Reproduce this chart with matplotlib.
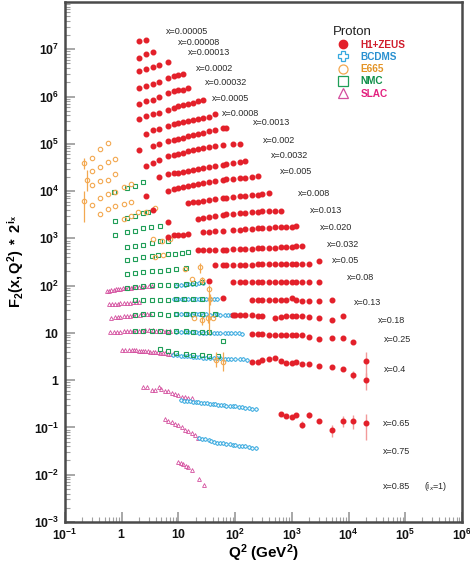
import numpy as np
import matplotlib.pyplot as plt
from matplotlib.lines import Line2D
from matplotlib.ticker import FixedLocator, LogLocator, NullFormatter, FuncFormatter

plt.rcParams['font.family'] = ['Liberation Sans', 'DejaVu Sans']
plt.rcParams['mathtext.fontset'] = 'custom'
plt.rcParams['mathtext.rm'] = 'Liberation Sans'
plt.rcParams['mathtext.it'] = 'Liberation Sans:italic'
plt.rcParams['mathtext.bf'] = 'Liberation Sans:bold'

# x bins, top to bottom (F2 is scaled by 2^i_x, i_x=1 for x=0.85)
bins = ['0.00005', '0.00008', '0.00013', '0.0002', '0.00032', '0.0005', '0.0008',
        '0.0013', '0.002', '0.0032', '0.005', '0.008', '0.013', '0.020', '0.032',
        '0.05', '0.08', '0.13', '0.18', '0.25', '0.4', '0.65', '0.75', '0.85']

# H1+ZEUS: Q2 and F2*2^i per bin
hera_q2 = {
    '0.00005': [2, 2.7],
    '0.00008': [2, 2.7, 3.5],
    '0.00013': [2, 2.7, 3.5, 4.5, 6.5],
    '0.0002': [2, 2.7, 3.5, 4.5, 6.5, 8.5, 10, 12],
    '0.00032': [2, 2.7, 3.5, 4.5, 6.5, 8.5, 10, 12, 15],
    '0.0005': [2, 2.7, 3.5, 4.5, 6.5, 8.5, 10, 12, 15, 18, 22, 27],
    '0.0008': [2.7, 3.5, 4.5, 6.5, 8.5, 10, 12, 15, 18, 22, 27, 35, 45],
    '0.0013': [2, 3.5, 4.5, 6.5, 8.5, 10, 12, 15, 18, 22, 27, 35, 45, 60, 70],
    '0.002': [2.7, 3.5, 4.5, 6.5, 8.5, 10, 12, 15, 18, 22, 27, 35, 45, 60, 90, 120],
    '0.0032': [4.5, 6.5, 8.5, 10, 12, 15, 18, 22, 27, 35, 45, 60, 70, 90, 120, 150],
    '0.005': [2.7, 6.5, 8.5, 10, 12, 15, 18, 22, 27, 35, 45, 60, 70, 90, 120, 150, 200, 250],
    '0.008': [3.5, 15, 18, 22, 27, 35, 45, 60, 70, 90, 120, 150, 200, 250, 300, 400],
    '0.013': [6.5, 22, 27, 35, 45, 60, 70, 90, 120, 150, 200, 250, 300, 400, 500, 650],
    '0.020': [6.5, 8.5, 10, 12, 15, 27, 35, 45, 60, 90, 120, 150, 200, 250, 300, 400, 500,
              650, 800, 1000, 1200],
    '0.032': [22, 27, 35, 45, 60, 70, 90, 120, 150, 200, 250, 300, 400, 500, 650, 800, 1000,
              1200, 1500],
    '0.05': [45, 60, 70, 90, 120, 150, 200, 250, 300, 400, 500, 650, 800, 1000, 1200, 1500,
             2000, 3000],
    '0.08': [35, 90, 120, 150, 200, 250, 300, 400, 500, 650, 800, 1000, 1200, 1500, 2000, 3000],
    '0.13': [60, 200, 250, 300, 400, 500, 650, 800, 1000, 1200, 1500, 2000, 3000, 5000],
    '0.18': [90, 100, 120, 150, 200, 250, 300, 500, 650, 800, 1000, 1200, 1500, 2000, 3000,
             5000, 8000],
    '0.25': [200, 250, 300, 400, 500, 650, 800, 1000, 1200, 1500, 2000, 3000, 5000, 8000,
             12000, 20000],
    '0.4': [200, 250, 300, 400, 500, 650, 800, 1000, 1200, 1500, 2000, 3000, 5000, 8000,
            12000, 20000],
    '0.65': [650, 800, 1000, 1200, 1500, 2000, 3000, 5000, 8000, 12000, 20000],
}
hera_f2 = {
    '0.00005': [1.5e7, 1.6e7],
    '0.00008': [6.6e6, 8.0e6, 8.9e6],
    '0.00013': [3.5e6, 3.9e6, 4.3e6, 4.7e6, 5.3e6],
    '0.0002': [1.52e6, 1.71e6, 1.85e6, 2.07e6, 2.5e6, 2.7e6, 2.85e6, 3.05e6],
    '0.00032': [7.0e5, 7.9e5, 8.6e5, 9.6e5, 1.2e6, 1.29e6, 1.36e6, 1.4e6, 1.52e6],
    '0.0005': [3.4e5, 3.85e5, 4.2e5, 4.5e5, 5.3e5, 5.8e5, 6.2e5, 6.6e5, 6.8e5, 7.4e5, 8.0e5, 8.6e5],
    '0.0008': [1.64e5, 1.92e5, 2.09e5, 2.37e5, 2.58e5, 2.7e5, 2.83e5, 2.97e5, 3.12e5, 3.28e5,
               3.44e5, 3.65e5, 4.18e5],
    '0.0013': [7.3e4, 8.86e4, 9.76e4, 1.13e5, 1.21e5, 1.27e5, 1.34e5, 1.44e5, 1.51e5, 1.62e5,
               1.7e5, 1.83e5, 1.97e5, 2.12e5, 2.19e5],
    '0.002': [3.41e4, 4.02e4, 4.49e4, 5.46e4, 5.87e4, 6.16e4, 6.46e4, 6.95e4, 7.3e4, 7.66e4,
              8.04e4, 8.44e4, 8.86e4, 9.3e4, 9.76e4, 1.01e5],
    '0.0032': [2.0e4, 2.28e4, 2.39e4, 2.45e4, 2.57e4, 2.7e4, 2.84e4, 2.98e4, 3.12e4, 3.28e4,
               3.44e4, 3.61e4, 3.7e4, 3.88e4, 4.08e4, 4.35e4],
    '0.005': [7.96e3, 1.01e4, 1.13e4, 1.18e4, 1.24e4, 1.3e4, 1.37e4, 1.44e4, 1.51e4, 1.58e4,
              1.66e4, 1.74e4, 1.79e4, 1.83e4, 1.88e4, 1.93e4, 1.97e4, 2.04e4],
    '0.008': [4.04e3, 5.59e3, 5.78e3, 6.01e3, 6.25e3, 6.47e3, 6.79e3, 7.12e3, 7.3e3, 7.48e3,
              7.85e3, 8.04e3, 8.24e3, 8.45e3, 8.65e3, 8.95e3],
    '0.013': [2.19e3, 2.57e3, 2.7e3, 2.84e3, 2.98e3, 3.12e3, 3.2e3, 3.28e3, 3.36e3, 3.44e3,
              3.53e3, 3.61e3, 3.7e3, 3.79e3, 3.79e3, 3.85e3],
    '0.020': [1060, 1150, 1180, 1190, 1240, 1350, 1370, 1410, 1440, 1480, 1510, 1550, 1590,
              1630, 1640, 1660, 1700, 1720, 1740, 1770, 1790],
    '0.032': [573, 573, 575, 575, 578, 580, 585, 590, 600, 605, 615, 625, 630, 640, 650, 660,
              670, 690, 680],
    '0.05': [267, 268, 268, 270, 277, 277, 277, 280, 283, 283, 286, 290, 283, 290, 290, 290,
             286, 325],
    '0.08': [125, 120, 121, 120, 121, 120, 119, 121, 120, 118, 121, 120, 118, 120, 117, 120],
    '0.13': [54, 49, 49, 49, 49, 49, 49, 49, 55, 49, 47, 47, 47, 49],
    '0.18': [23.7, 23.7, 23.7, 23.7, 23.7, 23, 23, 20.9, 21.9, 23, 23, 23, 23, 21.9, 20.9,
             18.6, 23],
    '0.25': [9.3, 9.3, 9.3, 9.0, 9.0, 9.0, 9.0, 9.0, 9.0, 9.0, 8.3, 7.4, 7.9, 7.9, 6.3, 2.55],
    '0.4': [2.48, 2.48, 2.68, 2.81, 2.9, 2.55, 2.28, 2.28, 2.39, 2.17, 2.17, 2.04, 1.94, 1.73,
            1.31, 1.01],
    '0.65': [0.192, 0.172, 0.164, 0.186, 0.115, 0.186, 0.139, 0.087, 0.139, 0.139, 0.124],
}
hera_err = {
    '0.18': [0] * 16 + [1.5],
    '0.25': [0] * 12 + [0.4, 0.6, 0.6, 1.4],
    '0.4': [0] * 12 + [0.1, 0.15, 0.25, 0.38],
    '0.65': [0.02, 0.012, 0.015, 0.02, 0.02, 0.03, 0.012, 0.025, 0.035, 0.045, 0.07],
}

# BCDMS
bcdms_q2 = {
    '0.08': [9, 11, 13, 15, 17.5, 20, 23, 27],
    '0.13': [8.5, 10, 11.5, 13, 15, 17.5, 20, 23, 27, 31, 36, 42, 48],
    '0.18': [9, 11, 13, 15, 17.5, 20, 23, 27, 31, 36, 42, 48, 55, 65, 75, 85, 100],
    '0.25': [9, 11, 13, 15, 17.5, 20, 23, 27, 31, 36, 42, 48, 55, 65, 75, 85, 100, 115, 130],
    '0.4': [8, 9.5, 11, 12.5, 14, 16, 18, 20, 23, 27, 31, 36, 42, 48, 55, 65, 75, 85, 100,
            120, 140, 160],
    '0.65': [11, 12.5, 14, 16, 18, 20, 22.5, 25, 28, 32, 36, 40, 45, 50, 56, 63, 70, 80, 90,
             100, 115, 130, 150, 175, 200, 230],
    '0.75': [23, 26, 30, 34, 38, 43, 48, 55, 62, 70, 80, 90, 100, 115, 130, 150, 175, 200, 230],
}
bcdms_f2 = {
    '0.08': [100, 102, 104, 106, 108, 110, 112, 115],
    '0.13': [51, 51, 51.5, 51.5, 52, 52, 52, 52.5, 52.5, 53, 53, 53, 53],
    '0.18': [24.5, 24.6, 24.5, 24.6, 24.4, 24.5, 24.6, 24.4, 24.5, 24.3, 24.4, 24.5, 24.3,
             24.2, 24.3, 24.2, 24.0],
    '0.25': [10.3, 10.3, 10.2, 10.2, 10.2, 10.2, 10.1, 10.1, 10.1, 10.0, 10.0, 10.0, 9.9, 9.9,
             9.9, 9.8, 9.8, 9.8, 9.7],
    '0.4': [3.4, 3.35, 3.3, 3.25, 3.2, 3.2, 3.15, 3.1, 3.05, 3.0, 3.0, 2.95, 2.95, 2.9, 2.9,
            2.85, 2.85, 2.8, 2.8, 2.75, 2.75, 2.7],
    '0.65': [0.385, 0.37, 0.36, 0.355, 0.35, 0.345, 0.34, 0.335, 0.33, 0.325, 0.32, 0.315,
             0.31, 0.305, 0.3, 0.295, 0.29, 0.285, 0.28, 0.28, 0.27, 0.265, 0.26, 0.255,
             0.24, 0.24],
    '0.75': [0.060, 0.058, 0.056, 0.054, 0.052, 0.05, 0.048, 0.047, 0.046, 0.045, 0.044,
             0.043, 0.042, 0.041, 0.040, 0.040, 0.038, 0.037, 0.036],
}

# NMC
nmc_q2 = {
    '0.005': [0.73, 1.22, 1.72, 2.4],
    '0.008': [0.75, 1.22, 1.72, 2.4, 2.9],
    '0.013': [0.75, 1.22, 1.72, 2.4, 3.3, 4.7],
    '0.020': [1.22, 1.72, 2.4, 3.4, 4.7, 6.6],
    '0.032': [1.22, 1.72, 2.4, 3.4, 4.4, 6.6, 8.7, 11.4, 15],
    '0.05': [1.22, 1.72, 2.4, 3.4, 4.7, 6.6, 9.2, 13.7],
    '0.08': [1.22, 1.72, 2.4, 3.4, 4.7, 6.6, 9.2, 13.7, 18.3, 26],
    '0.13': [1.72, 2.4, 3.4, 4.7, 6.6, 9.2, 12.7, 18, 26],
    '0.18': [1.72, 2.4, 3.4, 4.7, 6.6, 9.2, 13.7, 18.3, 26, 44],
    '0.25': [1.72, 2.4, 3.4, 4.7, 6.6, 9.2, 13.7, 18.3, 26, 35, 60],
    '0.4': [4.7, 6.6, 9.2, 13.7, 18.3, 26, 35, 50],
}
nmc_f2 = {
    '0.005': [9.5e3, 1.14e4, 1.26e4, 1.55e4],
    '0.008': [2.34e3, 2.7e3, 2.98e3, 3.4e3, 3.67e3],
    '0.013': [1150, 1350, 1450, 1640, 1720, 1860],
    '0.020': [670, 705, 740, 800, 860, 900],
    '0.032': [341, 358, 402, 422, 450, 472, 472, 495, 512],
    '0.05': [179, 185, 194, 200, 204, 210, 220, 236],
    '0.08': [89.5, 94, 96.7, 101, 101, 101, 105, 110, 116, 120],
    '0.13': [49, 50.7, 50.7, 49, 49, 51.3, 51.3, 51.3, 51.3],
    '0.18': [23.7, 24.5, 24.5, 24.5, 23.7, 24.5, 25.7, 24.5, 25.7, 25.7],
    '0.25': [10.9, 10.9, 10.9, 10.9, 10.3, 10.9, 10.9, 10.6, 10.3, 10.3, 6.7],
    '0.4': [4.5, 4.1, 3.8, 3.6, 3.45, 3.35, 3.3, 3.2],
}

# SLAC
slac_q2 = {
    '0.08': [0.55, 0.6, 0.65, 0.72, 0.8, 0.85, 0.95, 1.05, 1.15, 1.3, 1.45, 1.6, 1.8, 2.0,
             2.3, 2.6, 3.0, 3.4],
    '0.13': [0.6, 0.68, 0.75, 0.85, 0.95, 1.1, 1.25, 1.4, 1.6, 1.8, 2.0],
    '0.18': [0.65, 0.75, 0.85, 0.95, 1.1, 1.25, 1.4, 1.6, 1.8, 2.1, 2.4, 2.8, 3.2],
    '0.25': [0.62, 0.72, 0.82, 0.95, 1.1, 1.25, 1.4, 1.6, 1.8, 2.0, 2.3, 2.6, 3.0, 3.5, 4.0,
             4.6, 5.3, 6.0, 7.0],
    '0.4': [1.0, 1.15, 1.35, 1.5, 1.65, 1.8, 2.0, 2.2, 2.4, 2.6, 2.9, 3.2, 3.5, 3.9, 4.3,
            4.8, 5.3, 5.9, 6.5, 7.2, 8.0],
    '0.65': [2.4, 2.75, 3.4, 3.9, 4.6, 5.0, 5.8, 6.6, 7.6, 8.7, 10, 11.4, 13.1, 15, 17],
    '0.75': [5.8, 6.6, 7.6, 8.7, 10, 11.4, 13.1, 15, 17, 19.5, 22.5],
    '0.85': [10, 11, 12, 13.5, 15, 17.7, 23, 28],
}
slac_f2 = {
    '0.08': [76, 78, 80, 82, 84, 85, 86, 88, 88, 90, 91, 92, 93, 94, 95, 96, 97, 98],
    '0.13': [40, 40, 41, 41, 42, 42, 43, 43, 44, 44, 45],
    '0.18': [21, 21.5, 22, 22, 22.5, 23, 23, 23.5, 24, 24, 24.5, 25, 25],
    '0.25': [10.4, 10.5, 10.6, 10.7, 10.8, 10.9, 11, 11, 11.1, 11.2, 11.2, 11.3, 11.3, 11.3,
             11.2, 11.2, 11.1, 11, 10.9],
    '0.4': [4.25, 4.3, 4.3, 4.3, 4.3, 4.25, 4.2, 4.2, 4.15, 4.1, 4.05, 4.0, 3.95, 3.9, 3.85,
            3.8, 3.75, 3.7, 3.65, 3.6, 3.55],
    '0.65': [0.71, 0.70, 0.63, 0.63, 0.71, 0.66, 0.58, 0.58, 0.53, 0.51, 0.48, 0.45, 0.43,
             0.42, 0.42],
    '0.75': [0.153, 0.139, 0.129, 0.119, 0.111, 0.101, 0.09, 0.083, 0.077, 0.069, 0.060],
    '0.85': [0.0185, 0.0175, 0.0165, 0.0155, 0.0145, 0.0123, 0.0082, 0.0061],
}

# E665 (low Q2 points, several x bins)
e665_q2 = [0.22, 0.30, 0.41, 0.57, 0.24, 0.30, 0.41, 0.57, 0.76, 0.22, 0.30, 0.41, 0.57,
           0.76, 0.41, 0.57, 0.76, 1.08, 1.44, 0.30, 0.41, 0.57, 0.76, 1.08, 1.44, 1.08,
           1.44, 1.96, 2.7, 3.9, 3.6, 5.1, 7.1, 3.9, 5.4, 13, 24, 17, 26, 34, 36, 18.5,
           25.6, 33.5, 41, 46, 60]
e665_f2 = [4.0e4, 4.95e4, 7.66e4, 1.02e5, 1.71e4, 2.6e4, 3.16e4, 4.14e4, 4.72e4, 6.25e3,
           1.34e4, 1.65e4, 1.73e4, 2.28e4, 7.0e3, 8.65e3, 9.4e3, 1.21e4, 1.4e4, 5.07e3,
           3.28e3, 4.18e3, 4.9e3, 5.32e3, 5.78e3, 2.57e3, 3.02e3, 3.56e3, 3.67e3, 4.33e3,
           975, 900, 975, 402, 435, 228, 248, 140, 129, 86.5, 53, 20.2, 18.6, 20.2, 20.2,
           2.68, 2.48]
e665_err_lo = [1.0e4, 0, 0, 0, 0.7e4, 0, 0, 0, 0, 4.0e3, 0, 0, 0, 0, 0, 0, 0, 0, 0, 0, 0,
               0, 0, 0, 0, 0, 0, 0, 0, 0, 0, 0, 0, 0, 0, 0, 60, 0, 20, 77, 15, 0, 4, 4, 0,
               0.8, 0.9]
e665_err_hi = [1.0e4, 0, 0, 0, 1.1e4, 0, 0, 0, 0, 4.0e3, 0, 0, 0, 0, 0, 0, 0, 0, 0, 0, 0,
               0, 0, 0, 0, 0, 0, 0, 0, 0, 0, 0, 0, 0, 0, 0, 60, 0, 20, 15, 15, 0, 4, 4, 0,
               1.2, 1.5]

# label anchors (Q2, F2*2^i) for the bin names
label_q2 = [6.0, 9.8, 14.8, 20.4, 29.4, 39, 59, 207, 311, 430, 619, 1290, 2090, 3140, 4180,
            5120, 9400, 12500, 33100, 42300, 42300, 40600, 40600, 40600]
label_f2 = [2.34e7, 1.37e7, 8.4e6, 3.88e6, 1.97e6, 9.1e5, 4.4e5, 2.84e5, 1.19e5, 5.73e4,
            2.64e4, 9.1e3, 3.79e3, 1.66e3, 730, 336, 147, 43.9, 18.3, 7.3, 1.7, 0.119,
            0.0305, 0.00559]

c_hera, c_bcdms, c_e665, c_nmc, c_slac = '#e3202a', '#36a9df', '#f3a850', '#1f9e57', '#d44e9e'

fig = plt.figure(figsize=(4.70, 5.67), dpi=100)
ax = fig.add_axes([0.1383, 0.0794, 0.8447, 0.9171])
ax.set_xscale('log')
ax.set_yscale('log')

for b in slac_q2:
    ax.plot(slac_q2[b], slac_f2[b], ls='none', marker='^', ms=2.8, mfc='none',
            mec=c_slac, mew=0.6)
for b in bcdms_q2:
    ax.plot(bcdms_q2[b], bcdms_f2[b], ls='none', marker='P', ms=2.9, mfc='white',
            mec=c_bcdms, mew=0.55)
for b in nmc_q2:
    ax.plot(nmc_q2[b], nmc_f2[b], ls='none', marker='s', ms=2.7, mfc='none',
            mec=c_nmc, mew=0.8)
ax.errorbar(e665_q2, e665_f2, yerr=[e665_err_lo, e665_err_hi], fmt='o', ms=3.2,
            mfc='none', mec=c_e665, mew=0.8, ecolor=c_e665, elinewidth=0.9, capsize=0)
for b in hera_q2:
    err = hera_err.get(b, [0] * len(hera_q2[b]))
    ax.errorbar(hera_q2[b], hera_f2[b], yerr=err, fmt='o', ms=3.3, color=c_hera,
                mec=c_hera, ecolor='#f29a9a', elinewidth=1.0, capsize=0)

for name, q, f in zip(bins, label_q2, label_f2):
    ax.text(q, f, 'x=' + name, fontsize=6.5, color='#2a2a2a', ha='left', va='center')
ax.text(2.15e5, 0.00559, r'(i$_x$=1)', fontsize=6.5, color='#2a2a2a', ha='left', va='center')

ax.set_xlim(0.1, 1e6)
ax.set_ylim(1e-3, 1e8)

def log_fmt(v, pos):
    e = int(round(np.log10(v)))
    if e == 0:
        return r'$\mathbf{1}$'
    if e == 1:
        return r'$\mathbf{10}$'
    return r'$\mathbf{10^{%d}}$' % e

ax.xaxis.set_major_locator(FixedLocator([10.0 ** k for k in range(-1, 7)]))
ax.yaxis.set_major_locator(FixedLocator([10.0 ** k for k in range(-3, 8)]))
ax.xaxis.set_minor_locator(LogLocator(base=10, subs=np.arange(2, 10), numticks=30))
ax.yaxis.set_minor_locator(LogLocator(base=10, subs=np.arange(2, 10), numticks=30))
ax.xaxis.set_major_formatter(FuncFormatter(log_fmt))
ax.yaxis.set_major_formatter(FuncFormatter(log_fmt))
ax.xaxis.set_minor_formatter(NullFormatter())
ax.yaxis.set_minor_formatter(NullFormatter())
ax.tick_params(which='both', direction='in', top=False, right=False, color='#a0a0a0',
               labelsize=8.8, labelcolor='#111111')
ax.tick_params(which='major', length=7, width=1.3, pad=4)
ax.tick_params(which='minor', length=3.5, width=0.8)
for s in ax.spines.values():
    s.set_color('#4a4a4a')
    s.set_linewidth(1.8)

ax.set_xlabel(r'$\mathbf{Q^2\ (GeV^2)}$', fontsize=11)
ax.xaxis.set_label_coords(0.5, -0.04)
ax.set_ylabel(r'$\mathbf{F_2(x,Q^2)\ *\ 2^{i_x}}$', fontsize=10.5)
ax.yaxis.set_label_coords(-0.098, 0.5)

handles = [
    Line2D([], [], ls='none', marker='o', ms=6, color=c_hera),
    Line2D([], [], ls='none', marker='P', ms=7, mfc='white', mec=c_bcdms, mew=0.9),
    Line2D([], [], ls='none', marker='o', ms=6.5, mfc='none', mec=c_e665, mew=0.9),
    Line2D([], [], ls='none', marker='s', ms=6.5, mfc='none', mec=c_nmc, mew=0.9),
    Line2D([], [], ls='none', marker='^', ms=6.5, mfc='none', mec=c_slac, mew=0.9),
]
leg = ax.legend(handles, ['H1+ZEUS', 'BCDMS', 'E665', 'NMC', 'SLAC'],
                title='Proton', loc='upper left', bbox_to_anchor=(0.652, 0.972),
                frameon=False, prop={'weight': 'bold', 'size': 7.2},
                labelcolor=['#d01c2c', '#2a90d0', '#e39325', '#0f8f48', '#e3207f'],
                handlelength=2.0, handletextpad=0.8, labelspacing=0.22,
                borderpad=0.9, borderaxespad=0.0, alignment='left')
leg.get_title().set_fontsize(9.5)
leg.get_title().set_color('#222222')

fig.savefig('out.png', dpi=100)
